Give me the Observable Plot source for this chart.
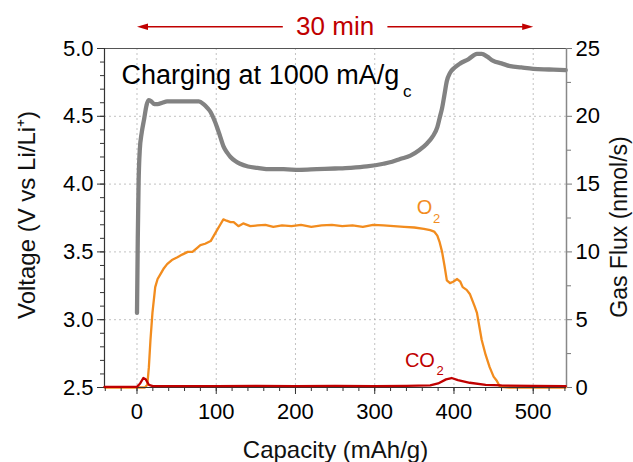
<!DOCTYPE html>
<html>
<head>
<meta charset="utf-8">
<script src="https://cdn.jsdelivr.net/npm/d3@7"></script>
<script src="https://cdn.jsdelivr.net/npm/@observablehq/plot@0.6"></script>
<style>
  html, body { margin: 0; padding: 0; background: #fff; }
  svg { display: block; }
</style>
</head>
<body>
<div id="chart"></div>
<script>
// ---- Data ----
const voltageCapacity = [0, 1, 2, 3.5, 6, 9, 12, 14.5, 18, 22, 26, 32, 38, 50, 65, 78, 84, 89, 93, 97, 101, 105, 109, 114, 118, 124, 130, 140, 152, 168, 185, 205, 227, 250, 269, 290, 311, 322, 332, 345, 356, 366, 373, 379, 382, 385, 388, 391, 395, 401, 408, 418, 429, 435, 442, 449, 460, 471, 485, 500, 520, 541];
const voltageValues   = [3.05, 3.6, 4.0, 4.25, 4.38, 4.48, 4.58, 4.62, 4.61, 4.59, 4.59, 4.6, 4.61, 4.61, 4.61, 4.61, 4.59, 4.56, 4.53, 4.48, 4.42, 4.35, 4.28, 4.23, 4.2, 4.17, 4.15, 4.13, 4.12, 4.11, 4.11, 4.105, 4.11, 4.115, 4.12, 4.13, 4.15, 4.165, 4.185, 4.21, 4.25, 4.3, 4.35, 4.42, 4.49, 4.56, 4.66, 4.76, 4.82, 4.86, 4.89, 4.92, 4.96, 4.96, 4.94, 4.91, 4.89, 4.87, 4.86, 4.85, 4.845, 4.84];

const o2Capacity = [-41, 0, 10, 13, 15, 17, 19.5, 23, 26, 30, 34, 38, 44, 51, 57, 64, 70, 76, 80, 86, 93, 97, 101, 105, 109, 113, 118, 122, 128, 134, 143, 152, 162, 172, 183, 195, 207, 220, 233, 246, 259, 272, 285, 298, 311, 324, 337, 350, 362, 370, 375, 379, 382, 385, 388, 391, 395, 399, 404, 408, 411, 416, 420, 426, 429, 435, 440, 445, 450, 454, 458, 470, 500, 541];
const o2Flux     = [0, 0, 0, 0.2, 1.5, 3.5, 5.5, 7.4, 8.0, 8.4, 8.8, 9.1, 9.4, 9.6, 9.8, 10.0, 10.0, 10.3, 10.5, 10.6, 10.8, 11.2, 11.6, 12.0, 12.4, 12.3, 12.2, 12.2, 11.9, 12.1, 11.9, 11.95, 12.0, 11.85, 11.95, 11.9, 12.0, 11.85, 11.95, 12.0, 11.9, 11.95, 11.85, 12.0, 11.95, 11.9, 11.85, 11.8, 11.7, 11.6, 11.5, 11.2, 10.7, 10.0, 9.0, 7.9, 7.7, 7.8, 8.0, 7.8, 7.4, 7.2, 6.9, 6.0, 5.5, 3.5, 2.4, 1.5, 0.8, 0.5, 0.05, 0, 0, 0];

const co2Capacity = [-41, 0, 4, 8, 11, 15, 20, 60, 100, 150, 200, 250, 300, 340, 370, 380, 390, 397, 405, 420, 440, 460, 500, 541];
const co2Flux     = [0.05, 0.05, 0.3, 0.7, 0.6, 0.2, 0.1, 0.1, 0.1, 0.12, 0.1, 0.12, 0.1, 0.12, 0.15, 0.3, 0.6, 0.7, 0.55, 0.35, 0.2, 0.15, 0.12, 0.1];

const xTicks       = [0, 100, 200, 300, 400, 500];
const voltageTicks = [2.5, 3.0, 3.5, 4.0, 4.5, 5.0];
const fluxTicks    = [0, 5, 10, 15, 20, 25];
const gridVoltage  = [3.0, 3.5, 4.0, 4.5];

const titleText  = "Charging at 1000 mA/g";
const titleSub   = "c";
const spanText   = "30 min";
const spanCapacity = [0, 500];

// ---- Mapping of the right (gas flux) axis onto the voltage scale ----
const toV = g => 2.5 + g * 0.1;   // 0..25 nmol/s  ->  2.5..5.0 V
const xDomain = [-41, 542];

const vData   = voltageCapacity.map((x, i) => ({x, y: voltageValues[i]}));
const o2Data  = o2Capacity.map((x, i) => ({x, y: toV(o2Flux[i])}));
const co2Data = co2Capacity.map((x, i) => ({x, y: toV(co2Flux[i])}));

const RED = "#c00000", ORANGE = "#f28c1e", GRAY = "#828282", DARK = "#333";

const headRight = {draw(ctx) { ctx.moveTo(0, 0); ctx.lineTo(-11, -3.3); ctx.lineTo(-11, 3.3); ctx.closePath(); }};
const headLeft  = {draw(ctx) { ctx.moveTo(0, 0); ctx.lineTo(11, -3.3); ctx.lineTo(11, 3.3); ctx.closePath(); }};

const arrowY = 5.16;
const textMid = (spanCapacity[0] + spanCapacity[1]) / 2;

const chart = Plot.plot({
  width: 633,
  height: 462,
  marginLeft: 104,
  marginRight: 67,
  marginTop: 48,
  marginBottom: 75,
  style: {fontFamily: "'Liberation Sans', Arial, Helvetica, sans-serif", fontSize: "22px", color: "#000", background: "#fff"},
  x: {domain: xDomain},
  y: {domain: [2.5, 5.0]},
  marks: [
    Plot.gridX(xTicks, {stroke: "#999", strokeOpacity: 0.6, strokeDasharray: "2,3"}),
    Plot.gridY(gridVoltage, {stroke: "#999", strokeOpacity: 0.6, strokeDasharray: "2,3"}),
    Plot.line(vData, {x: "x", y: "y", stroke: GRAY, strokeWidth: 4.3, curve: "monotone-x"}),
    Plot.line(o2Data, {x: "x", y: "y", stroke: ORANGE, strokeWidth: 2.3}),
    // axes
    Plot.axisX({ticks: xTicks, tickSize: 7, tickPadding: 9, fontSize: 22, stroke: DARK, label: null}),
    Plot.axisX({ticks: d3.range(-40, 541, 20), tickSize: 4, tickFormat: () => "", stroke: DARK, label: null}),
    Plot.axisY({anchor: "left", ticks: voltageTicks, tickFormat: d3.format(".1f"), tickSize: 7, tickPadding: 4, fontSize: 22, stroke: DARK, label: null}),
    Plot.axisY({anchor: "left", ticks: d3.range(25, 51).map(d => d / 10), tickSize: 4, tickFormat: () => "", stroke: DARK, label: null}),
    Plot.axisY({anchor: "right", ticks: fluxTicks.map(toV), tickFormat: v => String(Math.round((v - 2.5) * 10)), tickSize: 5, tickPadding: 4, fontSize: 22, stroke: "#777", label: null}),
    Plot.axisY({anchor: "right", ticks: [2.5, 7.5, 12.5, 17.5, 22.5].map(toV), tickSize: 4, tickFormat: () => "", stroke: "#777", label: null}),
    // frame
    Plot.ruleY([5.0], {stroke: "#555", strokeWidth: 1.2}),
    Plot.ruleX([xDomain[1]], {stroke: "#888", strokeWidth: 1.5}),
    Plot.ruleX([xDomain[0]], {stroke: DARK, strokeWidth: 1.2}),
    Plot.ruleY([2.5], {stroke: DARK, strokeWidth: 1.2}),
    Plot.line(co2Data, {x: "x", y: "y", stroke: RED, strokeWidth: 2.3}),
    // axis titles
    Plot.text(["Capacity (mAh/g)"], {frameAnchor: "bottom", dy: 63, lineAnchor: "middle", textAnchor: "middle", fontSize: 24, fill: "#111"}),
    Plot.text(["Voltage (V vs Li/Li\u207A)"], {frameAnchor: "left", dx: -77, dy: -3, rotate: -90, textAnchor: "middle", lineAnchor: "middle", fontSize: 24, fill: "#111"}),
    Plot.text(["Gas Flux (nmol/s)"], {frameAnchor: "right", dx: 53, dy: 9, rotate: -90, textAnchor: "middle", lineAnchor: "middle", fontSize: 23, fill: "#111"}),
    // annotations
    Plot.text([titleText], {x: -19.5, y: 4.80, textAnchor: "start", fontSize: 27, fill: "#000"}),
    Plot.text([titleSub], {x: 341, y: 4.683, fontSize: 17, fill: "#000"}),
    Plot.text(["O"], {x: 363, y: 3.824, fontSize: 20, fill: ORANGE}),
    Plot.text(["2"], {x: 378, y: 3.746, fontSize: 13, fill: ORANGE}),
    Plot.text(["CO"], {x: 357, y: 2.699, fontSize: 20, fill: RED}),
    Plot.text(["2"], {x: 382.5, y: 2.625, fontSize: 13, fill: RED}),
    // 30 min span arrow
    Plot.link([0], {x1: () => spanCapacity[0] + 6, x2: () => textMid - 66, y1: arrowY, y2: arrowY, stroke: RED, strokeWidth: 1.4}),
    Plot.link([0], {x1: () => textMid + 66, x2: () => spanCapacity[1] - 6, y1: arrowY, y2: arrowY, stroke: RED, strokeWidth: 1.4}),
    Plot.dot([spanCapacity[0]], {x: d => d, y: arrowY, symbol: headLeft, fill: RED, stroke: null}),
    Plot.dot([spanCapacity[1]], {x: d => d, y: arrowY, symbol: headRight, fill: RED, stroke: null}),
    Plot.text([spanText], {x: textMid, y: arrowY, fontSize: 26, fill: RED})
  ]
});
document.getElementById("chart").appendChild(chart);
</script>
</body>
</html>
